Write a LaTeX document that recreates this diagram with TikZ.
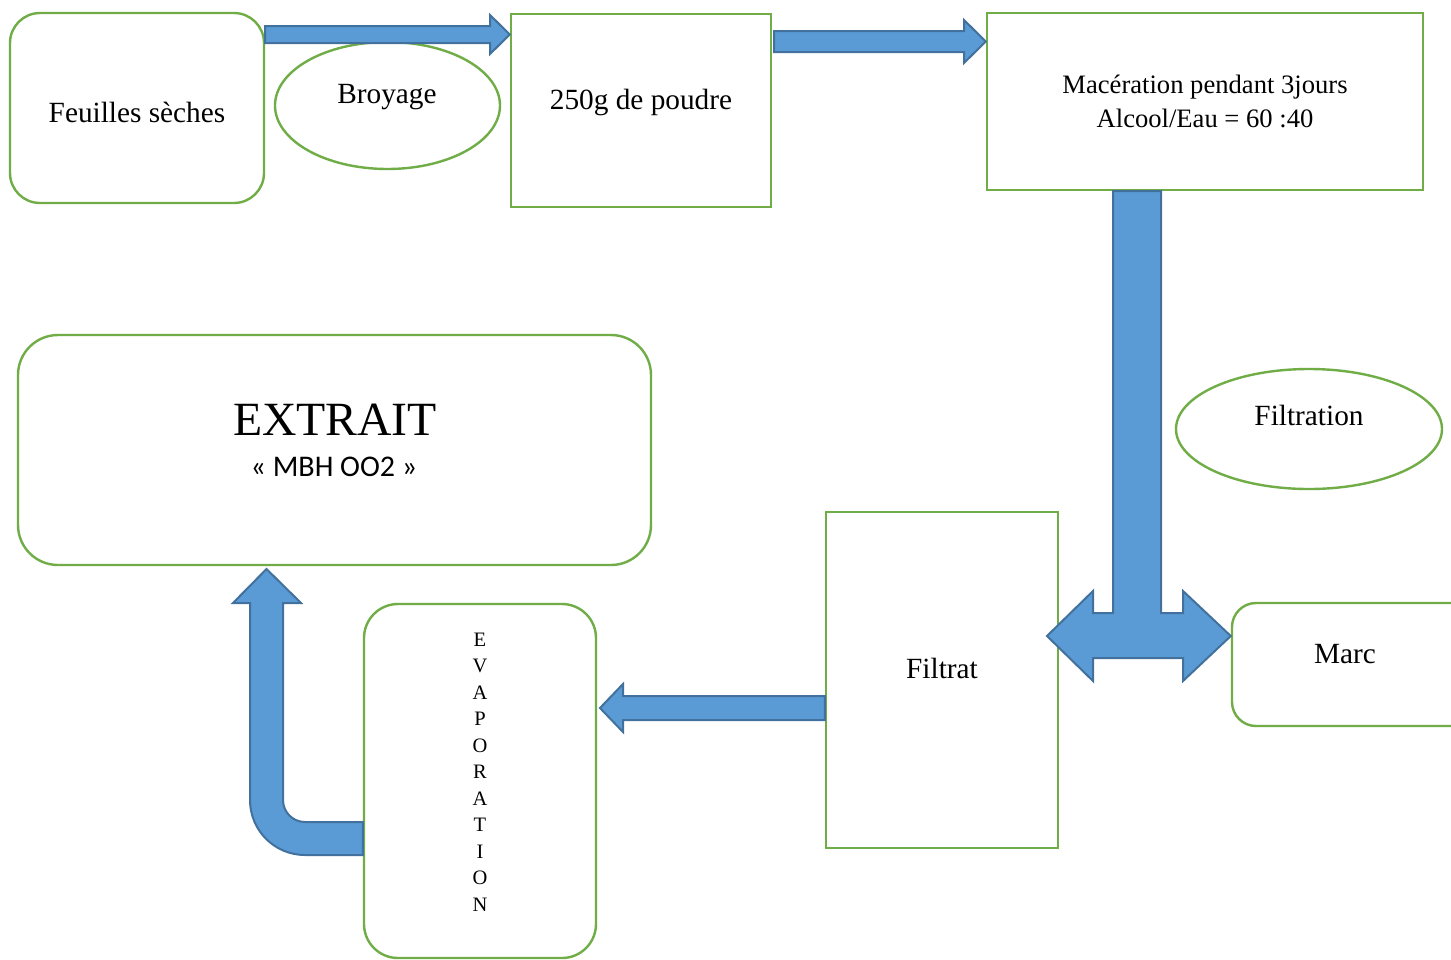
\documentclass[tikz,border=0pt]{standalone}
\usepackage{fontspec}
\setmainfont{Liberation Serif}
\newfontfamily\calib{Carlito}
\usetikzlibrary{shapes.geometric}
\definecolor{gr}{HTML}{70AD47}
\definecolor{afill}{HTML}{5B9BD5}
\definecolor{aline}{HTML}{41719C}
\tikzset{
  box/.style={draw=gr, line width=2.4pt, fill=white, inner sep=0pt},
  rbox/.style={box, rounded corners=#1},
  ell/.style={box, ellipse},
  blockarrow/.style={fill=afill, draw=aline, line width=2pt, line join=miter},
  lbl/.style={anchor=base, inner sep=0pt, font=\fontsize{29.3}{35}\selectfont},
  lblsmall/.style={anchor=base, inner sep=0pt, font=\fontsize{26.6}{33}\selectfont},
  evl/.style={anchor=base, inner sep=0pt, font=\fontsize{20.5}{24}\selectfont},
}
\begin{document}
\begin{tikzpicture}[x=1pt,y=-1pt]
\clip (0,0) rectangle (1451,959);
\fill[white] (0,0) rectangle (1451,959);

% boxes
\node[rbox=30pt, minimum width=254pt, minimum height=190pt] (feuilles) at (137,108) {};
\node[ell, minimum width=225pt, minimum height=127pt] (broyage) at (387.5,105.5) {};
\node[box, minimum width=260pt, minimum height=193pt] (poudre) at (641,110.5) {};
\node[box, minimum width=436pt, minimum height=177pt] (maceration) at (1205,101.5) {};
\node[ell, minimum width=266pt, minimum height=120pt] (filtration) at (1309,429) {};
\node[box, minimum width=232pt, minimum height=336pt] (filtrat) at (942,680) {};
\node[rbox=24pt, minimum width=250pt, minimum height=123pt] (marc) at (1357,664.5) {};
\node[rbox=40pt, minimum width=633pt, minimum height=230pt] (extrait) at (334.5,450) {};
\node[rbox=34pt, minimum width=232pt, minimum height=354pt] (evap) at (480,781) {};
\coordinate (ltip) at (1047,636);

% labels
\node[lbl] (tfeuilles) at (137,122.5) {Feuilles sèches};
\node[lbl] (tbroyage) at (387,103.5) {Broyage};
\node[lbl] (tpoudre) at (641,109) {250g de poudre};
\node[lblsmall] (tmac1) at (1205,93.5) {Macération pendant 3jours};
\node[lblsmall] (tmac2) at (1205,127) {Alcool/Eau = 60 :40};
\node[lbl] (tfiltration) at (1309,425) {Filtration};
\node[lbl] (tfiltrat) at (942,678) {Filtrat};
\node[lbl] (tmarc) at (1345,663.5) {Marc};
\node[anchor=base, inner sep=0pt, font=\fontsize{47.7}{55}\selectfont] (textrait) at (335,435) {EXTRAIT};
\node[anchor=base, inner sep=0pt, font=\calib\fontsize{30}{34}\selectfont] (tmbh) at (334,476) {« MBH OO2 »};
\foreach \l [count=\i from 0] in {E,V,A,P,O,R,A,T,I,O,N}
  \node[evl] (ev\i) at (480,646+26.5*\i) {\l};

% block arrows
% Feuilles -> Poudre
\draw[blockarrow] (feuilles.east |- 0,26) -- (490,26) -- (490,15) -- (poudre.west |- 0,34.5)
  -- (490,54) -- (490,43) -- (feuilles.east |- 0,43) -- cycle;
% Poudre -> Maceration
\draw[blockarrow] (774,31) -- (964,31) -- (964,20) -- (maceration.west |- 0,41.5)
  -- (964,63) -- (964,52) -- (774,52) -- cycle;
% Maceration -> Filtrat / Marc
\draw[blockarrow] (1113,191) -- (1161,191) -- (1161,613) -- (1183,613) -- (1183,591)
  -- (marc.west |- 0,636) -- (1183,681) -- (1183,658) -- (1093,658) -- (1093,681)
  -- (ltip) -- (1093,591) -- (1093,613) -- (1113,613) -- cycle;
% Filtrat -> Evaporation
\draw[blockarrow] (filtrat.west |- 0,696) -- (623,696) -- (623,684) -- (600,708)
  -- (623,732) -- (623,720) -- (filtrat.west |- 0,720) -- cycle;
% Evaporation -> Extrait (bent)
\draw[blockarrow] (evap.west |- 0,822) -- (305,822)
  .. controls (292.85,822) and (283,812.15) .. (283,800)
  -- (283,603) -- (301,603) -- (266.5,569) -- (233,603) -- (250,603) -- (250,800)
  .. controls (250,830.4) and (274.6,855) .. (305,855)
  -- (evap.west |- 0,855) -- cycle;
\end{tikzpicture}
\end{document}
